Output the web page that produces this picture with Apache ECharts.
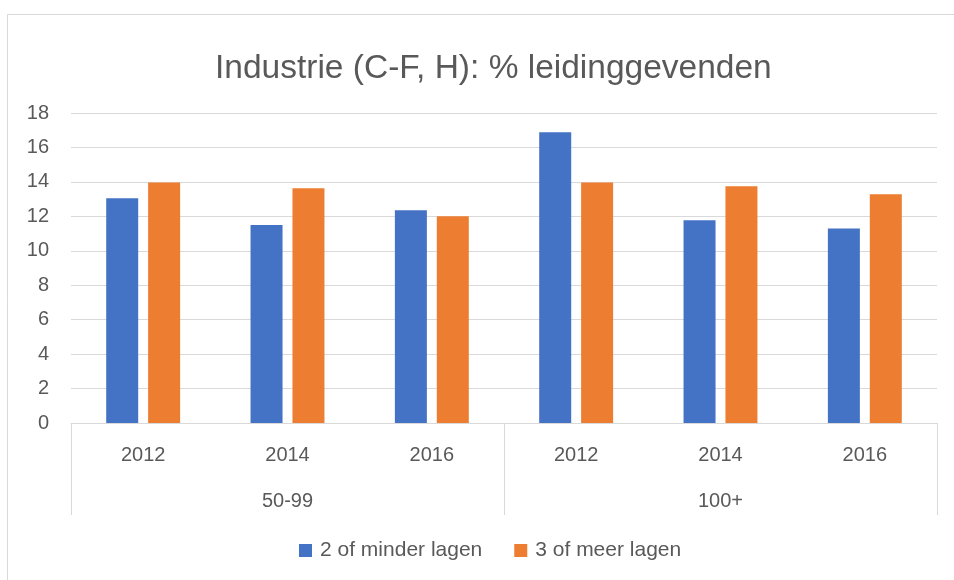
<!DOCTYPE html>
<html style="height: 100%">
<head>
  <meta charset="utf-8">
</head>
<body style="height: 100%; margin: 0; background: #fff">
  <div id="container" style="width: 954px; height: 580px"></div>

  <script type="text/javascript" src="https://cdn.jsdelivr.net/npm/echarts@6/dist/echarts.min.js"></script>
  <script type="text/javascript">
    var years = ['2012', '2014', '2016', '2012', '2014', '2016'];
    var groups = ['50-99', '100+'];
    var seriesNames = ['2 of minder lagen', '3 of meer lagen'];
    var minderLagen = [13.05, 11.5, 12.35, 16.88, 11.77, 11.3];
    var meerLagen = [13.97, 13.63, 12.0, 13.97, 13.74, 13.28];

    var dom = document.getElementById('container');
    var myChart = echarts.init(dom);
    var font = 'Liberation Sans, sans-serif';
    var textColor = '#595959';

    var option = {
      animation: false,
      backgroundColor: '#ffffff',
      color: ['#4472C4', '#ED7D31'],
      textStyle: { fontFamily: font, color: textColor },
      graphic: [{
        type: 'rect',
        shape: { x: 7.5, y: 14.5, width: 1000, height: 1000 },
        style: { fill: 'none', stroke: '#d9d9d9', lineWidth: 1 },
        silent: true
      }],
      title: {
        text: 'Industrie (C-F, H): % leidinggevenden',
        left: 210,
        top: 47,
        textStyle: { fontFamily: font, fontSize: 33.5, fontWeight: 'normal', color: textColor }
      },
      legend: {
        data: seriesNames,
        bottom: 14,
        left: 294,
        itemWidth: 13,
        itemHeight: 13,
        itemGap: 32,
        icon: 'rect',
        textStyle: { fontFamily: font, fontSize: 21, color: textColor, padding: [0, 0, 0, 3] }
      },
      grid: { left: 71, right: 17, top: 113, bottom: 157 },
      xAxis: [{
        type: 'category',
        data: years,
        position: 'bottom',
        axisLine: { lineStyle: { color: '#d9d9d9', width: 1 } },
        axisTick: { show: false },
        axisLabel: { fontFamily: font, fontSize: 20, color: textColor, margin: 22 }
      }, {
        type: 'category',
        data: groups,
        position: 'bottom',
        axisLine: { show: false },
        axisTick: { show: true, length: 92, lineStyle: { color: '#d9d9d9', width: 1 } },
        axisLabel: { fontFamily: font, fontSize: 20, color: textColor, margin: 68 }
      }],
      yAxis: {
        type: 'value',
        min: 0,
        max: 18,
        interval: 2,
        axisLine: { show: false },
        axisTick: { show: false },
        axisLabel: { fontFamily: font, fontSize: 20, color: textColor, margin: 22 },
        splitLine: { lineStyle: { color: '#d9d9d9', width: 1 } }
      },
      series: [{
        name: seriesNames[0],
        type: 'bar',
        xAxisIndex: 0,
        data: minderLagen,
        barWidth: 32,
        barGap: '31%'
      }, {
        name: seriesNames[1],
        type: 'bar',
        xAxisIndex: 0,
        data: meerLagen,
        barWidth: 32,
        barGap: '31%'
      }]
    };

    myChart.setOption(option);
  </script>
</body>
</html>
